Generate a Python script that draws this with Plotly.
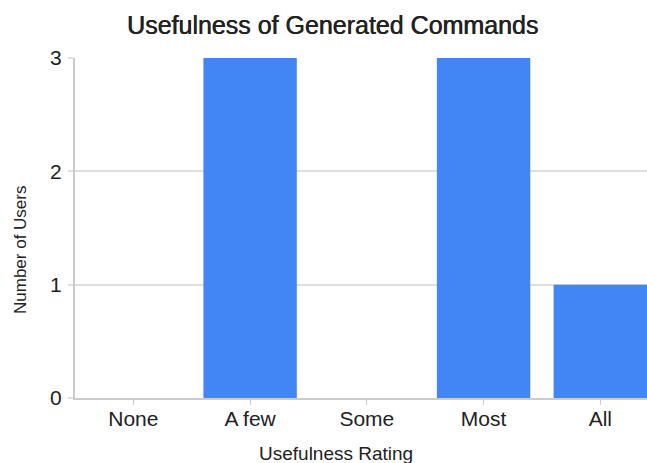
import plotly.graph_objects as go

ratings = ["None", "A few", "Some", "Most", "All"]
users = [0, 3, 0, 3, 1]
y_ticks = [0, 1, 2, 3]

BAR = "#4285F4"
GRID = "#e0e0e0"
AXIS = "#cccccc"
TEXT = "#222222"
FONT = "Liberation Sans, Arial, sans-serif"

fig = go.Figure(
    go.Bar(x=list(range(len(ratings))), y=users, marker=dict(color=BAR, line=dict(width=0)), width=0.8)
)

fig.update_layout(
    width=647,
    height=463,
    margin=dict(l=75, r=0, t=58, b=65),
    paper_bgcolor="white",
    plot_bgcolor="white",
    font=dict(family=FONT, color=TEXT, size=21),
    showlegend=False,
    title=dict(
        text="Usefulness of Generated Commands",
        x=332.5 / 647, xref="container", xanchor="center",
        y=1 - 25 / 463, yref="container", yanchor="middle",
        font=dict(size=25, family=FONT, color=TEXT, shadow="0.6px 0 0 #222"),
    ),
)

fig.update_xaxes(
    range=[-0.5, 4.4],
    tickmode="array",
    tickvals=list(range(len(ratings))),
    ticktext=ratings,
    tickson="boundaries",
    ticks="outside",
    ticklen=5,
    tickcolor=AXIS,
    showline=True,
    linecolor=AXIS,
    linewidth=2,
    showgrid=False,
    zeroline=False,
    tickfont=dict(size=21, color=TEXT),
    ticklabelstandoff=-4,
)

fig.update_yaxes(
    range=[0, 3],
    tickmode="array",
    tickvals=y_ticks,
    ticks="outside",
    ticklen=5,
    tickcolor=GRID,
    tickwidth=2,
    showline=True,
    linecolor=AXIS,
    linewidth=2,
    showgrid=True,
    gridcolor=GRID,
    gridwidth=2,
    zeroline=False,
    tickfont=dict(size=21, color=TEXT),
    ticklabelstandoff=2,
)

fig.add_annotation(
    text="Usefulness Rating", xref="paper", yref="paper",
    x=(335.5 - 75) / 572, y=-(453 - 398) / 340,
    xanchor="center", yanchor="middle", showarrow=False,
    font=dict(size=19, family=FONT, color=TEXT),
)
fig.add_annotation(
    text="Number of Users", xref="paper", yref="paper",
    x=-(75 - 20) / 572, y=(398 - 250) / 340,
    xanchor="center", yanchor="middle", showarrow=False, textangle=-90,
    font=dict(size=17, family=FONT, color=TEXT),
)

fig.write_html("out.html")
